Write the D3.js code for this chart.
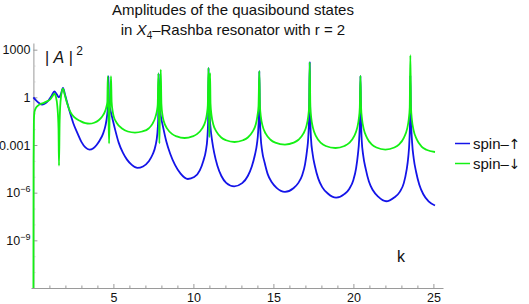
<!DOCTYPE html>
<html>
<head>
<meta charset="utf-8">
<script src="https://cdn.jsdelivr.net/npm/d3@7"></script>
<style>
  body { margin: 0; background: #fff; }
  svg { display: block; font-family: "Liberation Sans", Arial, "DejaVu Sans", sans-serif; }
</style>
</head>
<body>
<div id="chart"></div>
<script>
// Données : [k, log10(|A|^2)]
const spinUp = [
  [0, 0.0], [0.15, -0.17], [0.35, -0.35], [0.55, -0.45], [0.75, -0.38], [0.95, -0.18],
  [1.15, 0.12], [1.31, 0.38], [1.45, 0.2], [1.6, 0.0], [1.72, 0.2], [1.85, 0.6], [1.97, 0.2],
  [2.1, -0.3], [2.3, -1.0], [2.5, -1.65], [2.75, -2.25], [3.0, -2.8], [3.25, -3.15], [3.5, -3.29],
  [3.75, -3.2], [3.95, -3.0], [4.15, -2.7], [4.35, -2.3], [4.5, -1.8], [4.6, -1.2], [4.66, -0.5],
  [4.69, 1.33], [4.72, -0.3],
  [4.8, -0.75], [4.92, -1.25], [5.1, -2.0], [5.33, -2.85], [5.6, -3.5], [5.85, -3.92], [6.15, -4.25],
  [6.5, -4.44], [6.85, -4.35], [7.2, -4.04], [7.45, -3.6], [7.63, -3.05], [7.74, -2.35], [7.8, -1.4],
  [7.83, 1.5], [7.87, -0.5],
  [7.95, -1.1], [8.1, -1.85], [8.3, -2.75], [8.55, -3.55], [8.85, -4.25], [9.2, -4.8], [9.65, -5.14],
  [10.05, -5.02], [10.4, -4.6], [10.62, -4.0], [10.78, -3.35], [10.87, -2.6], [10.92, -1.5],
  [10.95, 1.85], [10.99, -0.6],
  [11.07, -1.9], [11.18, -2.8], [11.3, -3.5], [11.5, -4.3], [11.75, -4.95], [12.05, -5.38], [12.55, -5.6],
  [13.05, -5.4], [13.4, -4.95], [13.65, -4.35], [13.85, -3.6], [13.97, -2.95], [14.05, -2.1], [14.1, -0.8],
  [14.12, 1.65], [14.15, -0.8],
  [14.2, -2.4], [14.3, -3.4], [14.45, -4.1], [14.65, -4.85], [14.9, -5.35], [15.2, -5.7], [15.72, -5.95],
  [16.25, -5.72], [16.55, -5.4], [16.8, -4.9], [16.98, -4.2], [17.1, -3.35], [17.18, -2.5], [17.23, -1.2],
  [17.27, 2.2], [17.3, -1.0],
  [17.35, -2.6], [17.45, -3.55], [17.6, -4.35], [17.8, -5.1], [18.05, -5.65], [18.4, -6.05], [18.92, -6.31],
  [19.45, -6.08], [19.75, -5.75], [20.0, -5.2], [20.17, -4.45], [20.28, -3.6], [20.36, -2.65], [20.41, -1.3],
  [20.44, 1.35], [20.47, -1.0],
  [20.52, -2.7], [20.62, -3.7], [20.77, -4.5], [20.97, -5.3], [21.22, -5.85], [21.55, -6.25], [22.05, -6.54],
  [22.55, -6.3], [22.9, -5.95], [23.15, -5.4], [23.32, -4.6], [23.43, -3.75], [23.5, -2.75], [23.54, -1.4],
  [23.56, 1.38], [23.59, -1.0],
  [23.67, -2.85], [23.77, -3.85], [23.92, -4.7], [24.12, -5.5], [24.37, -6.1], [24.7, -6.55], [25.1, -6.81]
];

const spinDown = [
  [0, -13], [0.01, -4.0], [0.03, -1.5], [0.07, -0.9], [0.15, -0.68], [0.25, -0.55], [0.45, -0.42],
  [0.65, -0.35], [0.85, -0.25], [1.06, -0.12], [1.2, 0.08], [1.31, 0.23], [1.4, 0.05], [1.5, -0.6],
  [1.57, -2.0], [1.6, -4.3], [1.64, -1.5], [1.72, 0.0], [1.85, 0.54], [1.95, 0.2], [2.1, -0.35],
  [2.3, -0.9], [2.55, -1.25], [2.94, -1.5], [3.25, -1.63], [3.5, -1.66], [3.8, -1.6], [4.08, -1.44],
  [4.3, -1.2], [4.45, -0.95], [4.55, -0.65], [4.62, -0.3],
  [4.65, 1.33], [4.69, -0.8], [4.73, -2.9], [4.77, -0.8], [4.81, -0.2], [4.85, 1.33], [4.89, -0.3],
  [4.95, -0.85], [5.02, -1.2], [5.2, -1.6], [5.54, -1.96], [5.9, -2.15], [6.35, -2.22], [6.8, -2.15],
  [7.2, -1.96], [7.45, -1.65], [7.63, -1.23], [7.72, -0.85], [7.77, -0.45],
  [7.81, 1.5], [7.84, -0.8], [7.875, -2.9], [7.91, -0.8], [7.96, 1.75], [8.0, -0.4],
  [8.06, -1.07], [8.16, -1.54], [8.36, -1.97], [8.66, -2.3], [8.96, -2.46], [9.45, -2.56], [9.94, -2.46],
  [10.24, -2.3], [10.54, -1.97], [10.74, -1.54], [10.84, -1.07], [10.9, -0.5],
  [10.94, 1.85], [10.97, -0.8], [11.0, -2.5], [11.02, -0.8], [11.04, 1.52], [11.07, -0.4],
  [11.14, -1.18], [11.24, -1.69], [11.44, -2.16], [11.74, -2.53], [12.04, -2.7], [12.57, -2.81],
  [13.1, -2.7], [13.4, -2.53], [13.7, -2.16], [13.9, -1.69], [14.0, -1.18], [14.07, -0.55],
  [14.12, 1.65], [14.16, -0.55],
  [14.22, -1.25], [14.32, -1.78], [14.52, -2.29], [14.82, -2.67], [15.12, -2.85], [15.72, -2.97],
  [16.27, -2.85], [16.57, -2.67], [16.87, -2.29], [17.07, -1.78], [17.17, -1.25], [17.23, -0.6],
  [17.27, 2.2], [17.31, -0.6],
  [17.37, -1.34], [17.47, -1.91], [17.67, -2.46], [17.97, -2.87], [18.27, -3.06], [18.88, -3.19],
  [19.44, -3.06], [19.74, -2.87], [20.04, -2.46], [20.24, -1.91], [20.34, -1.34], [20.4, -0.64],
  [20.44, 1.35], [20.48, -0.64],
  [20.54, -1.38], [20.64, -1.97], [20.84, -2.53], [21.14, -2.96], [21.44, -3.16], [22.0, -3.29],
  [22.56, -3.16], [22.86, -2.96], [23.16, -2.53], [23.36, -1.97], [23.46, -1.38], [23.52, -0.66],
  [23.56, 2.65], [23.6, -0.66],
  [23.66, -1.44], [23.76, -2.06], [23.96, -2.65], [24.26, -3.1], [24.56, -3.3], [25.1, -3.44]
];

const xMajorTicks = [5, 10, 15, 20, 25];
const xMinorTicks = d3.range(1, 26).filter(v => v % 5 !== 0);
const yMajorTicks = [1e3, 1, 1e-3, 1e-6, 1e-9];
const yTickLabels = ["1000", "1", "0.001", ["10", "\u22126"], ["10", "\u22129"]];
const yMinorTicks = d3.range(-11, 4).filter(p => p % 3 !== 0).map(p => Math.pow(10, p));

const seriesNames = ["spin\u2013", "spin\u2013"];
const seriesArrows = ["\u2191", "\u2193"];
const seriesColors = ["#1414e8", "#14f014"];

const width = 529, height = 304;
const svg = d3.select("#chart").append("svg").attr("width", width).attr("height", height);

// 1. Échelles
const x = d3.scaleLinear().domain([-0.15, 25.6]).range([31, 443]);
const y = d3.scaleLog().domain([1e-12, Math.pow(10, 3.42)]).range([288, 43]);

const axisColor = "#9a9a9a";

// 2. Axes
const gx = svg.append("g")
  .attr("transform", `translate(0,${y(1e-12)})`)
  .call(d3.axisBottom(x).tickValues(xMajorTicks).tickSizeInner(-4).tickSizeOuter(0).tickPadding(5));
gx.select(".domain").attr("stroke", axisColor);
gx.selectAll(".tick line").attr("stroke", axisColor);
gx.selectAll(".tick text").attr("fill", "#111").style("font-size", "12.5px");

const gxm = svg.append("g")
  .attr("transform", `translate(0,${y(1e-12)})`)
  .call(d3.axisBottom(x).tickValues(xMinorTicks).tickSizeInner(-2.5).tickSizeOuter(0).tickFormat(""));
gxm.select(".domain").remove();
gxm.selectAll(".tick line").attr("stroke", axisColor);

const gy = svg.append("g")
  .attr("transform", `translate(${x(0)},0)`)
  .call(d3.axisLeft(y).tickValues(yMajorTicks).tickSizeInner(-4).tickSizeOuter(0).tickPadding(3).tickFormat(""));
gy.select(".domain").attr("stroke", axisColor);
gy.selectAll(".tick line").attr("stroke", axisColor);
gy.selectAll(".tick text").each(function (d, i) {
  const t = d3.select(this).attr("fill", "#111").style("font-size", "12.5px");
  const lab = yTickLabels[i];
  if (typeof lab === "string") {
    t.text(lab);
  } else {
    t.append("tspan").text(lab[0]);
    t.append("tspan").attr("dy", "-5").style("font-size", "9px").text(lab[1]);
  }
});

const gym = svg.append("g")
  .attr("transform", `translate(${x(0)},0)`)
  .call(d3.axisLeft(y).tickValues(yMinorTicks).tickSizeInner(-2).tickSizeOuter(0).tickFormat(""));
gym.select(".domain").remove();
gym.selectAll(".tick line").attr("stroke", "#c8c8c8");

// 3. Courbes
svg.append("clipPath").attr("id", "plot-clip")
  .append("rect").attr("x", x(-0.15)).attr("y", 0).attr("width", x(25.6) - x(-0.15)).attr("height", y(1e-12));

const line = d3.line()
  .x(d => x(d[0]))
  .y(d => y(Math.pow(10, d[1])))
  .curve(d3.curveMonotoneX);

const plot = svg.append("g").attr("clip-path", "url(#plot-clip)");
[spinUp, spinDown].forEach((data, i) => {
  plot.append("path")
    .datum(data)
    .attr("fill", "none")
    .attr("stroke", seriesColors[i])
    .attr("stroke-width", 1.8)
    .attr("stroke-linejoin", "round")
    .attr("d", line);
});

// 4. Titre et étiquettes
const title = svg.append("text")
  .attr("x", 233).attr("text-anchor", "middle")
  .style("font-size", "15px").attr("fill", "#111");
title.append("tspan").attr("x", 233).attr("y", 14.5).text("Amplitudes of the quasibound states");
const t2 = title.append("tspan").attr("x", 233).attr("y", 35);
t2.append("tspan").text("in ");
t2.append("tspan").style("font-style", "italic").text("X");
t2.append("tspan").attr("dy", 4).style("font-size", "10px").text("4");
t2.append("tspan").attr("dy", -4).text("\u2013Rashba resonator with r = 2");

const ylab = svg.append("text").attr("x", 45).attr("y", 63).style("font-size", "16px").attr("fill", "#111");
ylab.append("tspan").text("| ");
ylab.append("tspan").style("font-style", "italic").text("A");
ylab.append("tspan").text(" |");
ylab.append("tspan").attr("dy", -8).style("font-size", "12px").text(" 2");

svg.append("text").attr("x", 397).attr("y", 262).style("font-size", "16px").attr("fill", "#111").text("k");

// 5. Légende
const legend = svg.append("g");
seriesNames.forEach((name, i) => {
  const ly = 143.5 + i * 20;
  legend.append("line")
    .attr("x1", 455).attr("x2", 470).attr("y1", ly).attr("y2", ly)
    .attr("stroke", seriesColors[i]).attr("stroke-width", 1.5);
  const lt = legend.append("text")
    .attr("x", 473).attr("y", ly + 5)
    .style("font-size", "15px").attr("fill", "#111");
  lt.append("tspan").text(name);
  lt.append("tspan").style("font-family", "'DejaVu Sans'").style("font-size", "14px").text(seriesArrows[i]);
});
</script>
</body>
</html>
